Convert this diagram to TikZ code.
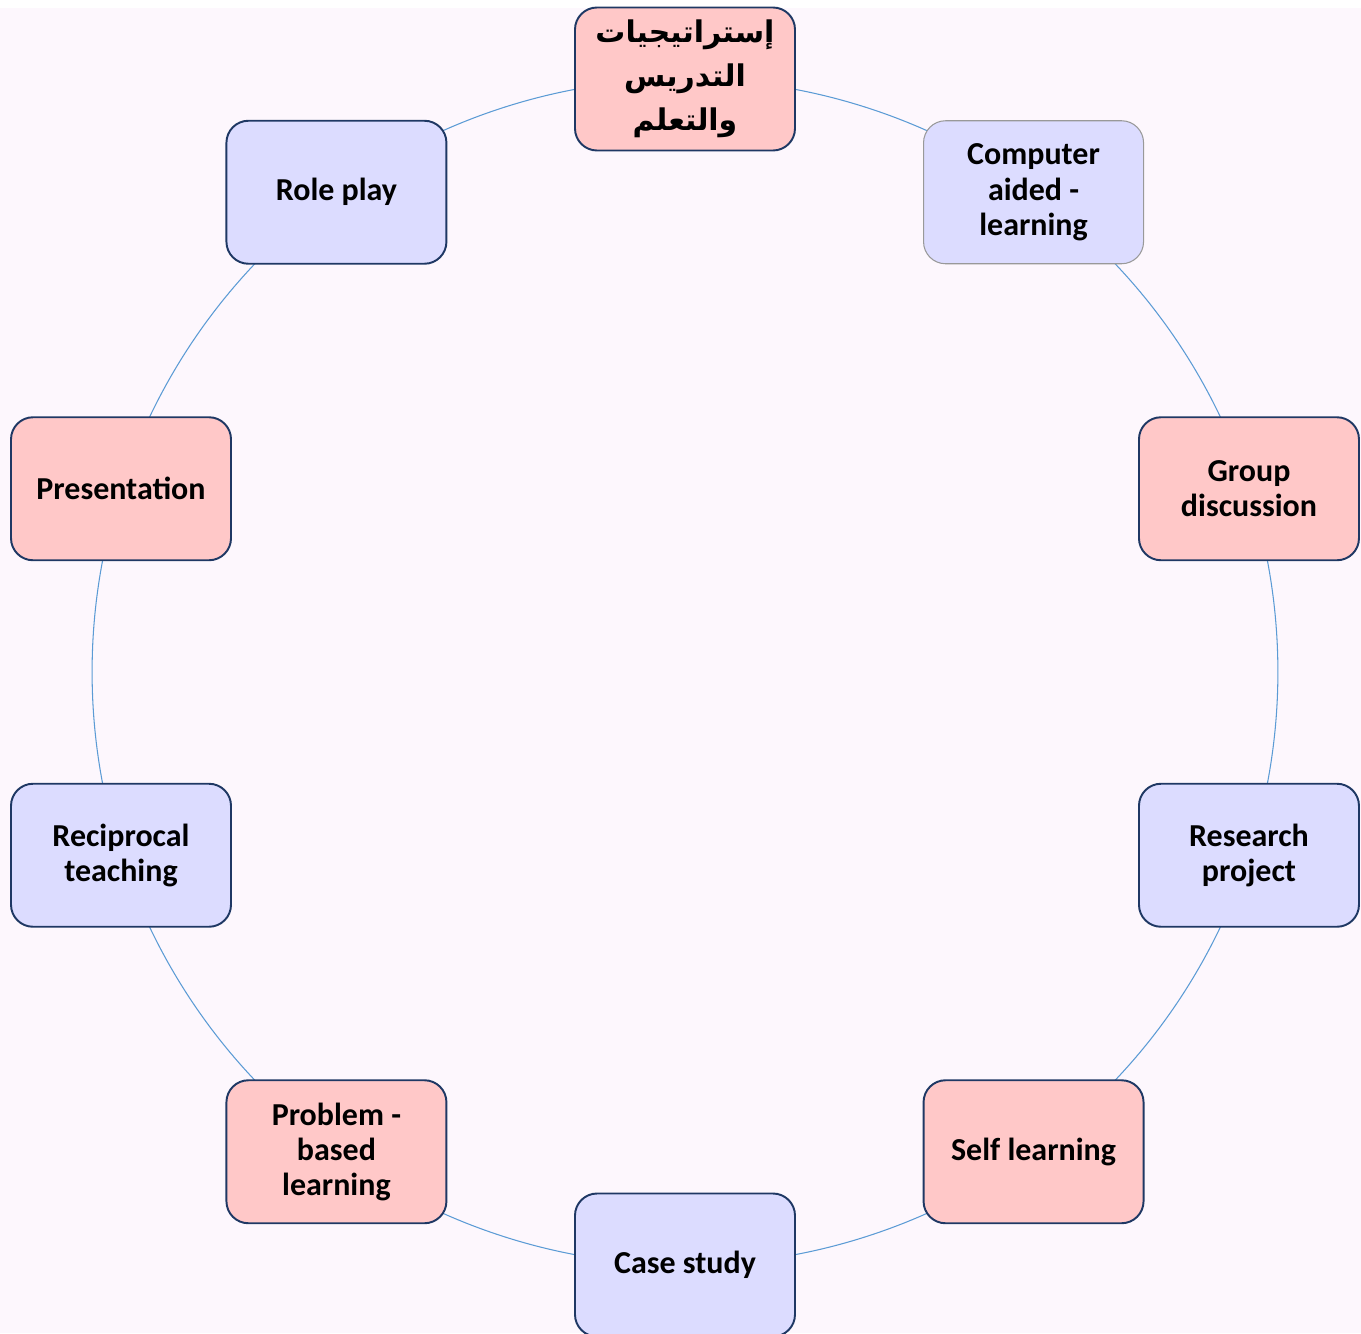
\documentclass[tikz,border=0pt]{standalone}
\usepackage{fontspec}
\setmainfont{Carlito}
\newfontfamily\arabicfont[Script=Arabic]{DejaVu Sans}
\TeXXeTstate=1
\usetikzlibrary{backgrounds}

\definecolor{pinkbox}{HTML}{FFC8C8}
\definecolor{bluebox}{HTML}{DCDCFF}
\definecolor{boxline}{HTML}{1F3864}
\definecolor{ringline}{HTML}{5B9BD5}
\definecolor{paper}{HTML}{FDF7FD}

\tikzstyle{strategy} = [rectangle, rounded corners=0.44cm, minimum width=4.4cm, minimum height=2.86cm, text centered, align=center, draw=boxline, line width=1.1pt, font=\bfseries\fontsize{18.2}{20}\selectfont]
\tikzstyle{warm} = [strategy, fill=pinkbox]
\tikzstyle{cool} = [strategy, fill=bluebox]
\tikzstyle{ring} = [ringline, line width=0.6pt, bend left=18, looseness=0.873]

\begin{document}
\begin{tikzpicture}
    \begin{pgfonlayer}{background}
	\fill[white] (-13.70,-13.22) rectangle (13.52,13.44);
	\fill[paper] (-13.70,-13.22) rectangle (13.52,13.28);
    \end{pgfonlayer}
    \useasboundingbox (-13.70,-13.22) rectangle (13.52,13.44);
	\node (Strategies) at (90:11.86) [warm, font=\arabicfont\bfseries\fontsize{17}{25}\selectfont] {\beginR إستراتيجيات\endR\\\beginR التدريس\endR\\\beginR والتعلم\endR};
	\node (Computer) at (54:11.86) [cool, draw=gray!80, line width=0.6pt] {Computer\\aided -\\learning};
	\node (Group) at (18:11.86) [warm] {Group\\discussion};
	\node (Research) at (-18:11.86) [cool] {Research\\project};
	\node (Self) at (-54:11.86) [warm] {Self learning};
	\node (Case) at (-90:11.86) [cool] {Case study};
	\node (Problem) at (-126:11.86) [warm] {Problem -\\based\\learning};
	\node (Reciprocal) at (-162:11.86) [cool] {Reciprocal\\teaching};
	\node (Presentation) at (162:11.86) [warm] {Presentation};
	\node (Role) at (126:11.86) [cool] {Role play};
    \begin{pgfonlayer}{background}
	\draw [ring] (Strategies.center) to (Computer.center);
	\draw [ring] (Computer.center) to (Group.center);
	\draw [ring] (Group.center) to (Research.center);
	\draw [ring] (Research.center) to (Self.center);
	\draw [ring] (Self.center) to (Case.center);
	\draw [ring] (Case.center) to (Problem.center);
	\draw [ring] (Problem.center) to (Reciprocal.center);
	\draw [ring] (Reciprocal.center) to (Presentation.center);
	\draw [ring] (Presentation.center) to (Role.center);
	\draw [ring] (Role.center) to (Strategies.center);
    \end{pgfonlayer}
\end{tikzpicture}
\end{document}
